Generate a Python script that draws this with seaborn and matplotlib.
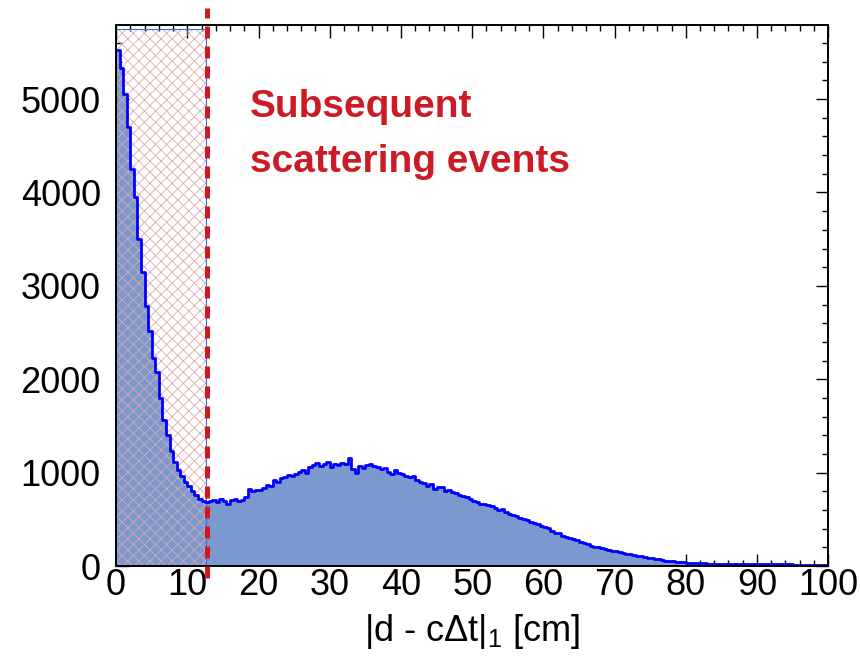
import numpy as np
import pandas as pd
import matplotlib
matplotlib.use("Agg")
import matplotlib.pyplot as plt
import matplotlib.transforms as mtransforms
from matplotlib.patches import Rectangle
from matplotlib.ticker import MultipleLocator
import seaborn as sns

# histogram contents, 0.5 cm bins from 0 to 100 cm
bin_width = 0.5
counts = [
    5520, 5330, 5050, 4700, 4250, 3950, 3500, 3150, 2780, 2520,
    2230, 2080, 1800, 1560, 1400, 1230, 1120, 1030, 960, 900,
    860, 800, 760, 720, 700, 690, 700, 710, 690, 720,
    700, 670, 705, 715, 700, 710, 740, 830, 800, 820,
    810, 840, 870, 860, 920, 900, 940, 950, 975, 960,
    990, 1010, 1030, 1000, 1060, 1080, 1100, 1070, 1090, 1110,
    1060, 1090, 1080, 1100, 1090, 1160, 1040, 1000, 1070, 1050,
    1080, 1090, 1075, 1060, 1040, 1050, 1010, 990, 1030, 1000,
    985, 970, 950, 960, 920, 900, 890, 860, 880, 830,
    850, 845, 800, 820, 790, 780, 760, 750, 740, 720,
    700, 690, 670, 660, 650, 640, 620, 600, 610, 580,
    560, 550, 540, 520, 500, 490, 470, 460, 450, 430,
    420, 410, 380, 360, 350, 320, 310, 300, 290, 275,
    262, 250, 235, 220, 210, 200, 190, 180, 172, 165,
    160, 150, 140, 132, 125, 118, 110, 104, 98, 92,
    85, 78, 72, 66, 60, 55, 50, 46, 43, 40,
    37, 35, 33, 31, 30, 29, 28, 27, 26, 25,
    25, 24, 24, 23, 23, 22, 22, 22, 21, 21,
    21, 20, 20, 20, 19, 19, 19, 18, 18, 18,
    17, 17, 17, 16, 16, 16, 15, 15, 15, 15,
]

cut_value = 12.8          # dashed cut line
hatch_width = 12.6        # shaded region 0 .. cut
hatch_top = 5750
x_label = "|d - c\u0394t|$_1$ [cm]"
note_lines = ["Subsequent", "scattering events"]

edges = [i * bin_width for i in range(len(counts) + 1)]
df = pd.DataFrame({"dist": np.array(edges[:-1]) + bin_width / 2, "count": counts})

sns.set_style("ticks")
plt.rcParams["font.family"] = ["Liberation Sans", "DejaVu Sans"]
plt.rcParams["mathtext.fontset"] = "custom"
plt.rcParams["mathtext.rm"] = "Liberation Sans"
plt.rcParams["mathtext.it"] = "Liberation Sans:italic"
plt.rcParams["hatch.linewidth"] = 0.6

fig = plt.figure(figsize=(8.6, 6.7), dpi=100)
ax = fig.add_axes([0.135, 0.155, 0.828, 0.808])

# filled histogram + outline
sns.histplot(data=df, x="dist", weights="count", bins=edges, element="step",
             fill=True, color="#7b98cf", alpha=1, linewidth=0, ax=ax)
sns.histplot(data=df, x="dist", weights="count", bins=edges, element="step",
             fill=False, color="#0000ff", linewidth=2.0, ax=ax)

# hatched region below the cut
ax.add_patch(Rectangle((0, 0), hatch_width, hatch_top, facecolor="none",
                       edgecolor="#dcaaaa", hatch="xxx", linewidth=0, zorder=1.5))
ax.add_patch(Rectangle((0, 0), hatch_width, hatch_top, facecolor="none",
                       edgecolor="#3a6fd8", linewidth=0.8, zorder=1.6))

# dashed cut line, sticking out of the frame
trans = mtransforms.blended_transform_factory(ax.transData, ax.transAxes)
ax.plot([cut_value, cut_value], [-0.022, 1.031], transform=trans, clip_on=False,
        color="#d4161e", linewidth=3.6, linestyle=(0, (2.4, 1.6)), zorder=5)

ax.text(18.8, 4807, note_lines[0], color="#cc1b24", fontsize=28,
        fontweight="bold", ha="left", va="baseline")
ax.text(18.8, 4218, note_lines[1], color="#cc1b24", fontsize=28,
        fontweight="bold", ha="left", va="baseline")

ax.set_xlim(0, 100)
ax.set_ylim(0, 5795)
ax.xaxis.set_major_locator(MultipleLocator(10))
ax.xaxis.set_minor_locator(MultipleLocator(2))
ax.yaxis.set_major_locator(MultipleLocator(1000))
ax.yaxis.set_minor_locator(MultipleLocator(200))
ax.tick_params(which="both", direction="in", top=True, right=True, width=1.0,
               color="black", labelcolor="black")
ax.tick_params(which="major", length=9)
ax.tick_params(which="minor", length=4.5)
ax.tick_params(axis="x", which="major", labelsize=26, pad=1.5)
ax.tick_params(axis="y", which="major", labelsize=26, pad=11)
for s in ax.spines.values():
    s.set_visible(True)
    s.set_linewidth(1.4)
    s.set_color("black")

ax.set_xlabel(x_label, fontsize=26, labelpad=6, color="black")
ax.set_ylabel("")

fig.savefig("out.png", dpi=100)
